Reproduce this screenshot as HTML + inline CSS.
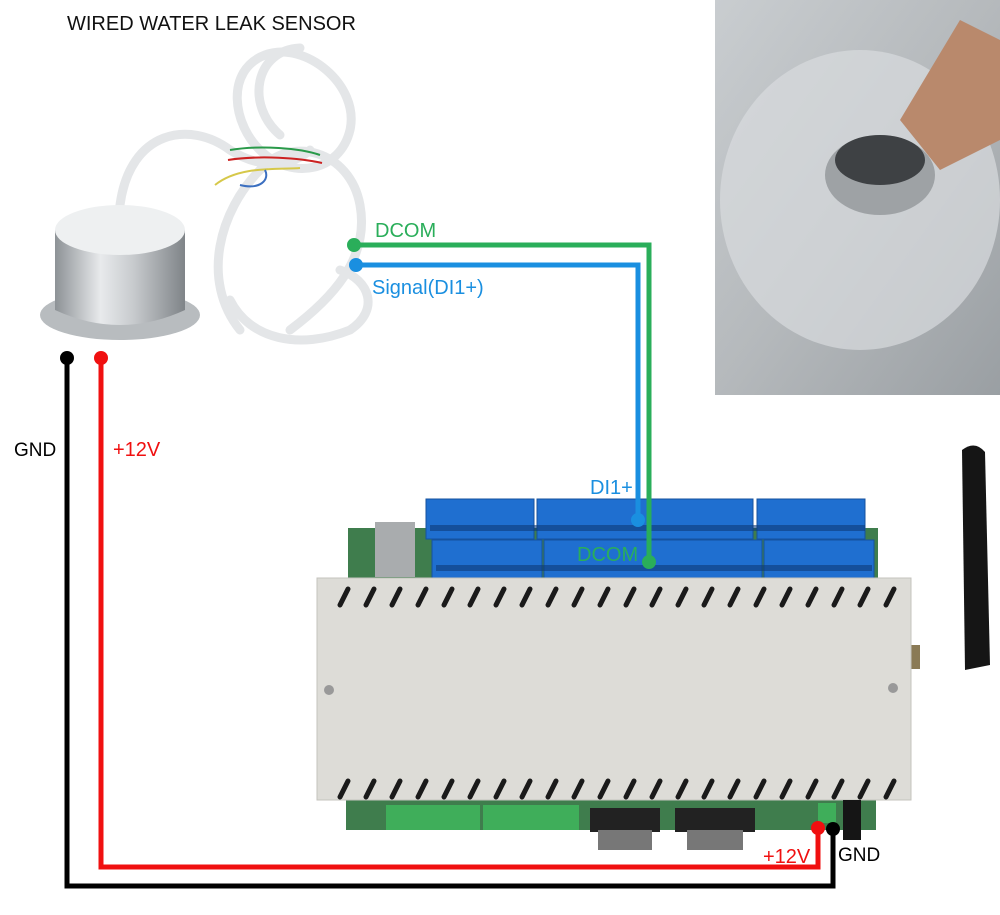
<!DOCTYPE html>
<html><head><meta charset="utf-8"><style>
html,body{margin:0;padding:0;background:#fff;}
svg{display:block;}
text{font-family:"Liberation Sans",sans-serif;}
</style></head><body>
<svg width="1000" height="915" viewBox="0 0 1000 915" xmlns="http://www.w3.org/2000/svg">
<defs>
<linearGradient id="cyl" x1="0" x2="1"><stop offset="0" stop-color="#8d9296"/><stop offset="0.35" stop-color="#e8eaec"/><stop offset="0.6" stop-color="#c8cbce"/><stop offset="1" stop-color="#7f8488"/></linearGradient>
<linearGradient id="photo" x1="0" y1="0" x2="1" y2="1"><stop offset="0" stop-color="#c9cdd0"/><stop offset="0.5" stop-color="#b5b9bc"/><stop offset="1" stop-color="#9a9fa3"/></linearGradient>
</defs>
<text x="67" y="30" font-size="20" fill="#111">WIRED WATER LEAK SENSOR</text>
<!-- cable loops -->
<g fill="none" stroke="#e4e6e8" stroke-width="9" stroke-linecap="round">
<path d="M120 205 C130 130 190 120 230 150 C270 175 300 160 310 150"/>
<path d="M240 330 C200 280 220 210 260 170 C290 135 350 150 360 205 C370 260 330 300 290 330"/>
<path d="M265 55 C225 70 232 125 262 152 C292 180 340 172 350 130 C360 85 305 40 265 55"/>
<path d="M300 48 C255 50 245 105 280 135"/>
<path d="M230 300 C250 340 300 350 350 330 C380 310 370 280 340 270"/>
</g>
<g fill="none" stroke-width="2">
<path d="M230 150 C260 145 300 148 320 155" stroke="#2a9a4a"/>
<path d="M228 160 C260 155 300 158 322 163" stroke="#c22"/>
<path d="M215 185 C240 165 280 170 300 168" stroke="#d6c84a"/>
<path d="M240 185 C260 190 270 180 265 170" stroke="#3b6fc0"/>
</g>
<!-- sensor -->
<ellipse cx="120" cy="315" rx="80" ry="25" fill="#b8bcbf"/>
<path d="M55 230 L55 310 Q120 340 185 310 L185 230 Z" fill="url(#cyl)"/>
<ellipse cx="120" cy="230" rx="65" ry="25" fill="#eef0f1"/>
<!-- photo -->
<rect x="715" y="0" width="285" height="395" fill="url(#photo)"/>
<ellipse cx="860" cy="200" rx="140" ry="150" fill="#d9dcde" opacity="0.7"/>
<ellipse cx="880" cy="175" rx="55" ry="40" fill="#9ea2a5"/>
<ellipse cx="880" cy="160" rx="45" ry="25" fill="#3e4144"/>
<path d="M900 120 L960 20 L1000 40 L1000 140 L940 170 Z" fill="#b9896c"/>
<!-- antenna -->
<path d="M962 450 Q975 440 985 452 L990 665 L965 670 Z" fill="#151515"/>
<rect x="906" y="645" width="14" height="24" fill="#8a7a55"/>
<!-- board PCB -->
<rect x="348" y="528" width="530" height="60" fill="#3f7d4d"/>
<rect x="346" y="795" width="530" height="35" fill="#3f7d4d"/>
<rect x="375" y="522" width="40" height="55" fill="#a9acae"/>
<!-- blue terminals -->
<g fill="#1f6fd0" stroke="#15529e" stroke-width="1">
<rect x="426" y="499" width="108" height="40"/>
<rect x="537" y="499" width="216" height="40"/>
<rect x="757" y="499" width="108" height="40"/>
<rect x="432" y="540" width="110" height="40"/>
<rect x="544" y="540" width="218" height="40"/>
<rect x="764" y="540" width="110" height="40"/>
</g>
<g fill="#0d3a78">
<rect x="430" y="525" width="435" height="6" opacity="0.6"/>
<rect x="436" y="565" width="436" height="6" opacity="0.6"/>
</g>
<!-- enclosure -->
<rect x="317" y="578" width="594" height="222" fill="#dddcd7" stroke="#c4c3be"/>
<g stroke="#1a1a1a" stroke-width="5" stroke-linecap="round">
<path d="M340 605 l8 -16 M366 605 l8 -16 M392 605 l8 -16 M418 605 l8 -16 M444 605 l8 -16 M470 605 l8 -16 M496 605 l8 -16 M522 605 l8 -16 M548 605 l8 -16 M574 605 l8 -16 M600 605 l8 -16 M626 605 l8 -16 M652 605 l8 -16 M678 605 l8 -16 M704 605 l8 -16 M730 605 l8 -16 M756 605 l8 -16 M782 605 l8 -16 M808 605 l8 -16 M834 605 l8 -16 M860 605 l8 -16 M886 605 l8 -16"/>
<path d="M340 797 l8 -16 M366 797 l8 -16 M392 797 l8 -16 M418 797 l8 -16 M444 797 l8 -16 M470 797 l8 -16 M496 797 l8 -16 M522 797 l8 -16 M548 797 l8 -16 M574 797 l8 -16 M600 797 l8 -16 M626 797 l8 -16 M652 797 l8 -16 M678 797 l8 -16 M704 797 l8 -16 M730 797 l8 -16 M756 797 l8 -16 M782 797 l8 -16 M808 797 l8 -16 M834 797 l8 -16 M860 797 l8 -16 M886 797 l8 -16"/>
</g>
<circle cx="329" cy="690" r="5" fill="#999"/><circle cx="893" cy="688" r="5" fill="#999"/>
<!-- bottom connectors -->
<rect x="386" y="805" width="94" height="25" fill="#3fae5a"/>
<rect x="483" y="805" width="96" height="25" fill="#3fae5a"/>
<rect x="590" y="808" width="70" height="24" fill="#222"/><rect x="598" y="830" width="54" height="20" fill="#777"/>
<rect x="675" y="808" width="80" height="24" fill="#222"/><rect x="687" y="830" width="56" height="20" fill="#777"/>
<rect x="818" y="803" width="18" height="20" fill="#3fae5a"/>
<rect x="843" y="800" width="18" height="40" fill="#151515"/>
<!-- wires -->
<g fill="none" stroke-width="5">
<path d="M67 358 V886 H833 V830" stroke="#000"/>
<path d="M101 358 V867 H818 V828" stroke="#f01010"/>
<path d="M354 245 H649 V562" stroke="#2aae5a"/>
<path d="M356 265 H638 V520" stroke="#1a8fe0"/>
</g>
<circle cx="67" cy="358" r="7" fill="#000"/><circle cx="101" cy="358" r="7" fill="#f01010"/>
<circle cx="833" cy="829" r="7" fill="#000"/><circle cx="818" cy="828" r="7" fill="#f01010"/>
<circle cx="354" cy="245" r="7" fill="#2aae5a"/><circle cx="649" cy="562" r="7" fill="#2aae5a"/>
<circle cx="356" cy="265" r="7" fill="#1a8fe0"/><circle cx="638" cy="520" r="7" fill="#1a8fe0"/>
<!-- labels -->
<text x="375" y="237" font-size="20" fill="#2aae5a">DCOM</text>
<text x="372" y="294" font-size="20" fill="#1a8fe0">Signal(DI1+)</text>
<text x="590" y="494" font-size="20" fill="#1a8fe0">DI1+</text>
<text x="577" y="561" font-size="20" fill="#2aae5a">DCOM</text>
<text x="14" y="456" font-size="19" fill="#000">GND</text>
<text x="113" y="456" font-size="20" fill="#f01010">+12V</text>
<text x="763" y="863" font-size="20" fill="#f01010">+12V</text>
<text x="838" y="861" font-size="19" fill="#000">GND</text>
</svg>
</body></html>
